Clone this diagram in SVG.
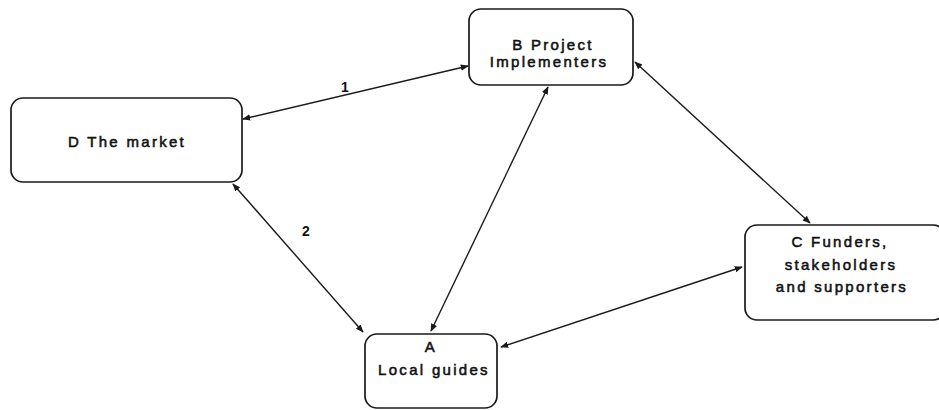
<svg xmlns="http://www.w3.org/2000/svg" width="939" height="410" viewBox="0 0 939 410">
  <style>
    .box { fill: #ffffff; stroke: #1a1a1a; stroke-width: 1.7; }
    .lbl { font-family: "Liberation Sans", Arial, sans-serif; font-size: 15px; fill: #111111; stroke: #111111; stroke-width: 0.55; letter-spacing: 2.3px; text-anchor: middle; }
    .num { font-family: "Liberation Sans", Arial, sans-serif; font-size: 14px; font-weight: bold; fill: #111111; text-anchor: middle; }
    .edge { fill: none; stroke: #1a1a1a; stroke-width: 1.4; marker-start: url(#arrow); marker-end: url(#arrow); }
  </style>
  <defs>
    <marker id="arrow" viewBox="0 0 10 10" refX="9" refY="5" markerWidth="8" markerHeight="8" markerUnits="userSpaceOnUse" orient="auto-start-reverse">
      <path d="M0,1 L10,5 L0,9 z" fill="#1a1a1a"/>
    </marker>
  </defs>

  <rect width="939" height="410" fill="#ffffff"/>

  <!-- connectors -->
  <g id="connectors">
    <line class="edge" x1="243" y1="119" x2="468" y2="66"/>
    <line class="edge" x1="233" y1="184" x2="363" y2="332"/>
    <line class="edge" x1="431" y1="331" x2="548" y2="87"/>
    <line class="edge" x1="635" y1="62" x2="810" y2="223"/>
    <line class="edge" x1="501" y1="347" x2="742" y2="267"/>
    <text class="num" x="345" y="92">1</text>
    <text class="num" x="306" y="236">2</text>
  </g>

  <!-- D: the market -->
  <g id="node-d">
    <rect class="box" x="11" y="98" width="231" height="84" rx="12"/>
    <text class="lbl" x="127" y="147">D The market</text>
  </g>

  <!-- B: project implementers -->
  <g id="node-b">
    <rect class="box" x="469" y="9" width="164" height="76" rx="12"/>
    <text class="lbl" x="553" y="50">B Project</text>
    <text class="lbl" x="549" y="67">Implementers</text>
  </g>

  <!-- C: funders, stakeholders and supporters -->
  <g id="node-c">
    <rect class="box" x="745" y="225" width="200" height="95" rx="12"/>
    <text class="lbl" x="840" y="247">C Funders,</text>
    <text class="lbl" x="841" y="270">stakeholders</text>
    <text class="lbl" x="842" y="292">and supporters</text>
  </g>

  <!-- A: local guides -->
  <g id="node-a">
    <rect class="box" x="365" y="334" width="132" height="74" rx="12"/>
    <text class="lbl" x="431" y="352">A</text>
    <text class="lbl" x="434" y="375">Local guides</text>
  </g>
</svg>
